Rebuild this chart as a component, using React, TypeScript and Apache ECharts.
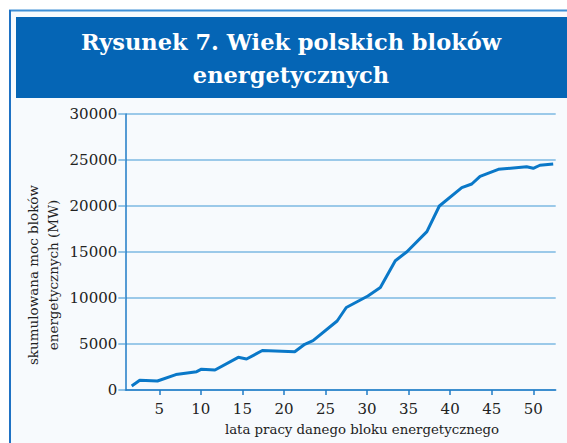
import React, { useEffect, useRef } from "react";
import * as echarts from "echarts";

// years of operation (x) and cumulative capacity in MW (y)
const years = [1.68, 2.65, 4.78, 7.0, 9.5, 10.08, 11.7, 14.5, 15.5, 17.4, 21.3, 22.5, 23.5, 26.4, 27.5, 30.1, 31.6, 33.4, 34.8, 37.2, 38.7, 41.4, 42.6, 43.6, 45.8, 49.2, 50.0, 50.8, 52.4];
const capacity = [435, 1050, 980, 1680, 1990, 2260, 2170, 3550, 3370, 4290, 4160, 4970, 5360, 7500, 8970, 10220, 11140, 14050, 15030, 17210, 20000, 21990, 22390, 23230, 23990, 24270, 24100, 24430, 24570];
const xTickValues = [5, 10, 15, 20, 25, 30, 35, 40, 45, 50];
const titleLines = ["Rysunek 7. Wiek polskich bloków", "energetycznych"];
const yAxisTitle = "skumulowana moc bloków\nenergetycznych (MW)";
const xAxisTitle = "lata pracy danego bloku energetycznego";

export default function App() {
  const ref = useRef<HTMLDivElement>(null);
  useEffect(() => {
    const chart = echarts.init(ref.current!, null, { renderer: "svg" });
    const data = years.map((x, i) => [x, capacity[i]]);
    const titleFont = 'bold 22.5px "DejaVu Serif"';
    chart.setOption({
      animation: false,
      backgroundColor: "#ffffff",
      graphic: [
        { type: "rect", z: -10, shape: { x: 10, y: 10, width: 557, height: 433 }, style: { fill: "#f7fafd" } },
        { type: "line", z: -9, shape: { x1: 9, y1: 10.5, x2: 567, y2: 10.5 }, style: { stroke: "#3f8fd6", lineWidth: 2 } },
        { type: "line", z: -9, shape: { x1: 10, y1: 10, x2: 10, y2: 443 }, style: { stroke: "#1f72c4", lineWidth: 2 } },
        { type: "rect", z: -8, shape: { x: 16, y: 17, width: 551, height: 81 }, style: { fill: "#0565b5" } },
        {
          type: "text", x: 291, y: 42,
          style: { text: titleLines[0], fill: "#ffffff", font: titleFont, align: "center", verticalAlign: "middle", textAlign: "center", textVerticalAlign: "middle" },
        },
        {
          type: "text", x: 291, y: 75,
          style: { text: titleLines[1], fill: "#ffffff", font: titleFont, align: "center", verticalAlign: "middle", textAlign: "center", textVerticalAlign: "middle" },
        },
        {
          type: "text", x: 43, y: 275, rotation: Math.PI / 2,
          style: { text: yAxisTitle, fill: "#222", font: '13.5px "DejaVu Serif"', lineHeight: 20, align: "center", verticalAlign: "middle", textAlign: "center", textVerticalAlign: "middle" },
        },
        {
          type: "text", x: 362, y: 429,
          style: { text: xAxisTitle, fill: "#222", font: '13.3px "DejaVu Serif"', align: "center", verticalAlign: "middle", textAlign: "center", textVerticalAlign: "middle" },
        },
      ],
      grid: { left: 125.3, right: 11.3, top: 114, bottom: 53, containLabel: false },
      xAxis: {
        type: "value",
        min: 0.91,
        max: 52.7,
        axisLine: { show: true, lineStyle: { color: "#1f7bc6", width: 1.5 } },
        axisTick: { show: true, customValues: xTickValues, length: 5, lineStyle: { color: "#1f7bc6", width: 1.5 } },
        axisLabel: { customValues: xTickValues, margin: 11, color: "#222", fontFamily: "DejaVu Serif", fontSize: 15 },
        splitLine: { show: false },
      },
      yAxis: {
        type: "value",
        min: 0,
        max: 30000,
        interval: 5000,
        axisLine: { show: true, lineStyle: { color: "#1f7bc6", width: 1.5 } },
        axisTick: { show: true, length: 7, lineStyle: { color: "#6fb0de", width: 1.5 } },
        axisLabel: { margin: 8, color: "#222", fontFamily: "DejaVu Serif", fontSize: 15, formatter: (v: number) => String(v) },
        splitLine: { show: true, lineStyle: { color: "#7db9e2", width: 1.5 } },
      },
      series: [
        {
          type: "line",
          data,
          showSymbol: false,
          z: 5,
          lineStyle: { color: "#0a78c8", width: 3 },
        },
      ],
    });
    return () => chart.dispose();
  }, []);
  return <div ref={ref} style={{ position: "fixed", left: 0, top: 0, width: 567, height: 443 }} />;
}
